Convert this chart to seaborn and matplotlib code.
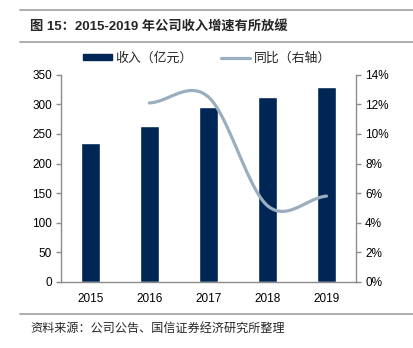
import numpy as np
import pandas as pd
import matplotlib
matplotlib.use("Agg")
import matplotlib.pyplot as plt
from matplotlib.ticker import FuncFormatter
from matplotlib.lines import Line2D
from matplotlib.patches import Patch
import seaborn as sns

years = ["2015", "2016", "2017", "2018", "2019"]
revenue = [234, 264, 296, 312, 330]          # 收入（亿元）
growth = [np.nan, 12.1, 12.5, 5.15, 5.8]     # 同比（%）
title = "图 15：2015-2019 年公司收入增速有所放缓"
source = "资料来源：公司公告、国信证券经济研究所整理"
bar_label = "收入（亿元）"
line_label = "同比（右轴）"

sns.set_theme(style="white")
plt.rcParams["font.family"] = ["Liberation Sans", "Noto Sans CJK SC", "DejaVu Sans"]

BAR = "#002655"
LINE = "#9aaec0"
GREY = "#8c8c8c"

fig = plt.figure(figsize=(4.14, 3.48), dpi=100)
ax = fig.add_axes([0.147, 0.19, 0.713, 0.595])

df = pd.DataFrame({"year": years, "revenue": revenue})
sns.barplot(data=df, x="year", y="revenue", color=BAR, width=0.32, ax=ax,
            saturation=1)
ax.set_xlim(-0.5, 4.5)
ax.set_ylim(0, 350)
ax.set_yticks(range(0, 351, 50))
ax.set_xlabel("")
ax.set_ylabel("")

ax2 = ax.twinx()
# smooth (Catmull-Rom style, like Excel's smoothed line) through the data points
xs = np.array([i for i, g in enumerate(growth) if not np.isnan(g)], dtype=float)
ys = np.array([g for g in growth if not np.isnan(g)], dtype=float)
n = len(xs)
tang = np.zeros(n)
for i in range(n):
    a = ys[max(i - 1, 0)]
    b = ys[min(i + 1, n - 1)]
    tang[i] = (b - a) / 2.0
cx, cy = [], []
for i in range(n - 1):
    t = np.linspace(0, 1, 40)
    h00 = 2 * t**3 - 3 * t**2 + 1
    h10 = t**3 - 2 * t**2 + t
    h01 = -2 * t**3 + 3 * t**2
    h11 = t**3 - t**2
    cy.extend(h00 * ys[i] + h10 * tang[i] + h01 * ys[i + 1] + h11 * tang[i + 1])
    cx.extend(xs[i] + t * (xs[i + 1] - xs[i]))
sns.lineplot(x=cx, y=cy, ax=ax2, color=LINE, linewidth=2.3, sort=False)
ax2.set_ylim(0, 14)
ax2.set_yticks(range(0, 15, 2))
ax2.yaxis.set_major_formatter(FuncFormatter(lambda v, p: f"{v:.0f}%"))
ax2.set_xlim(-0.5, 4.5)

for a in (ax, ax2):
    for s in a.spines.values():
        s.set_color(GREY)
        s.set_linewidth(1.0)
    a.spines["top"].set_visible(False)
    a.tick_params(axis="y", length=3.5, width=1, color=GREY, labelsize=8.5,
                  labelcolor="black", direction="out", pad=3)
    a.tick_params(axis="x", length=0, labelsize=8.5, labelcolor="black", pad=8)
    a.grid(False)
ax.spines["right"].set_visible(False)
ax2.spines["left"].set_visible(False)
ax2.spines["bottom"].set_visible(False)

handles = [Patch(facecolor=BAR, edgecolor=BAR, label=bar_label),
           Line2D([0], [0], color=LINE, lw=2.3, label=line_label)]
fig.legend(handles=handles, loc="center", bbox_to_anchor=(0.5, 0.833), ncol=2,
           frameon=False, handlelength=2.2, handleheight=0.45,
           columnspacing=2.2, handletextpad=0.3,
           prop={"family": ["Noto Sans CJK SC"], "size": 9.3})

# header / footer rules
fig.add_artist(Line2D([20 / 414, 1], [1 - 10 / 348] * 2, color="#a0a0a0", lw=1.2))
fig.add_artist(Line2D([20 / 414, 1], [1 - 42 / 348] * 2, color="#a0a0a0", lw=1.2))
fig.add_artist(Line2D([20 / 414, 1], [1 - 314 / 348] * 2, color="#a0a0a0", lw=1.2))
fig.text(30 / 414, 1 - 26 / 348, title, fontsize=9.5, fontweight="bold",
         va="center", ha="left",
         family=["Liberation Sans", "Noto Sans CJK SC"])
fig.text(30 / 414, 1 - 328 / 348, source, fontsize=8.7, va="center", ha="left",
         family=["Noto Sans CJK SC"])

fig.savefig("out.png", dpi=100)
